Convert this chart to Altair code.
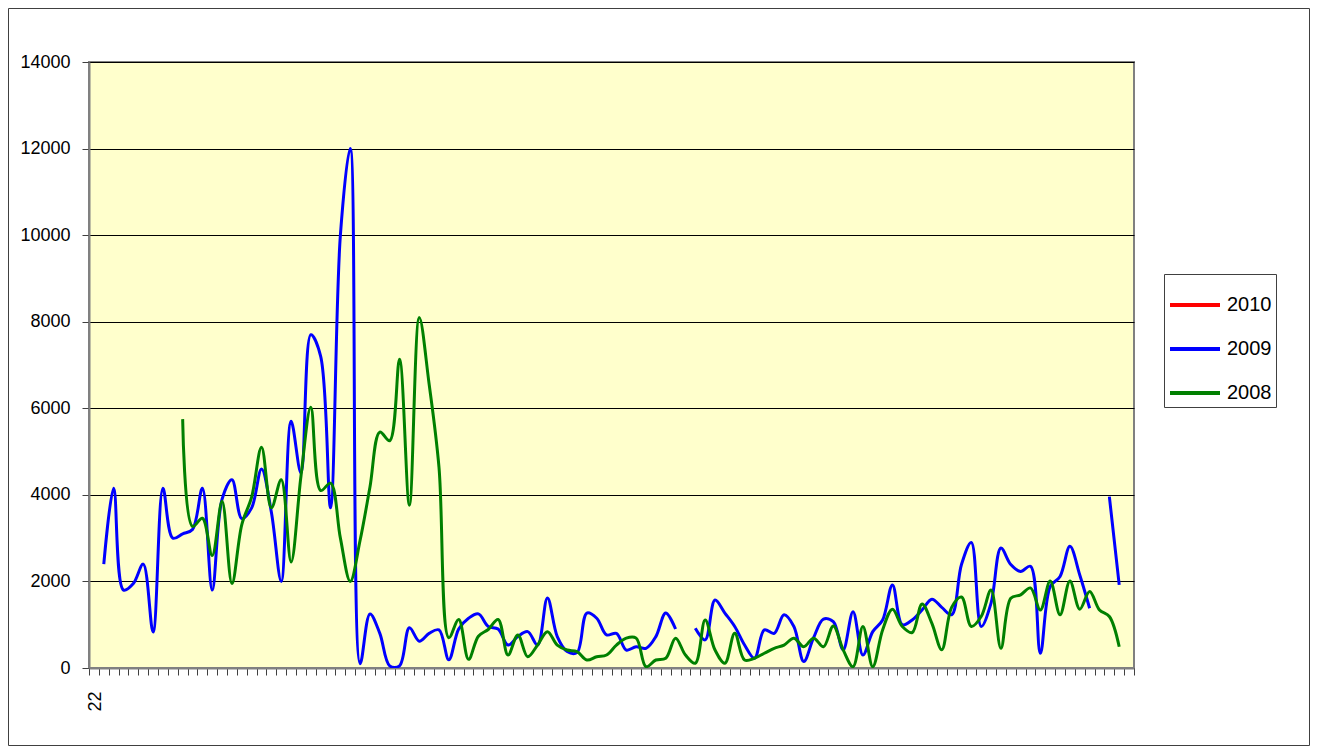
import altair as alt
import pandas as pd

# ---------------- data ----------------
categories = list(range(106))
first_label = "22"
series_names = ["2010", "2009", "2008"]
series_colors = ["#FF0000", "#0000FF", "#008000"]

values_2009 = [
    None, 2400, 4150, 1800, 1950, 2400, 830, 4150, 3000, 3100,
    3200, 4150, 1800, 3900, 4350, 3450, 3700, 4600, 3600, 2000,
    5700, 4500, 7700, 7200, 3700, 10000, 12000, 100, 1250, 800,
    50, 50, 930, 620, 800, 880, 190, 900, 1150, 1250,
    960, 900, 530, 725, 840, 530, 1620, 725, 380, 355,
    1270, 1150, 765, 800, 415, 490, 455, 725, 1270, 900,
    None, 920, 650, 1570, 1270, 960, 530, 225, 880, 800,
    1230, 960, 150, 700, 1130, 1070, 420, 1300, 300, 840,
    1110, 1920, 1000, 1110, 1340, 1590, 1400, 1230, 2390, 2900,
    960, 1500, 2770, 2390, 2230, 2350, 340, 1880, 2115, 2810,
    2150, 1380, None, 3960, 1920, None,
]

values_2008 = [
    None, None, None, None, None, None, None, None, None, 5750,
    3270, 3460, 2600, 3850, 1950, 3315, 3950, 5100, 3700, 4350,
    2450, 4430, 6025, 4100, 4270, 3000, 2000, 2950, 4180, 5450,
    5250, 7130, 3760, 8100, 6560, 4640, 700, 1120, 200, 735,
    890, 1120, 300, 765, 260, 530, 840, 530, 415, 380,
    185, 260, 300, 530, 690, 690, 30, 185, 225, 690,
    300, 110, 1110, 415, 110, 800, 185, 225, 340, 455,
    530, 690, 490, 690, 490, 970, 420, 30, 960, 30,
    880, 1360, 960, 820, 1480, 1030, 420, 1400, 1640, 960,
    1190, 1800, 455, 1610, 1690, 1850, 1340, 2010, 1230, 2010,
    1360, 1770, 1340, 1190, 490, None,
]

y_ticks = [0, 2000, 4000, 6000, 8000, 10000, 12000, 14000]

rows = []
for name, vals in (("2009", values_2009), ("2008", values_2008)):
    for i, v in zip(categories, vals):
        rows.append({"i": i, "v": v, "series": name})
df = pd.DataFrame(rows)

n_cat = len(categories)
tick_positions = [k - 0.5 for k in range(n_cat + 1)]

FONT = "Liberation Sans"
W, H = 1045, 606

lines = alt.Chart(df).mark_line(
    strokeWidth=3,
    interpolate="catmull-rom",
    clip=True,
    invalid="break-paths-show-domains",
).encode(
    x=alt.X(
        "i:Q",
        scale=alt.Scale(domain=[-0.5, n_cat - 0.5], nice=False, zero=False),
        axis=alt.Axis(
            values=tick_positions,
            labelExpr=f"datum.value == -0.5 ? '{first_label}' : ''",
            labelAngle=-90,
            labelAlign="right",
            labelBaseline="middle",
            labelOffset=6.5,
            labelPadding=16,
            labelOverlap=False,
            labelFlush=False,
            labelFontSize=18,
            labelFont=FONT,
            labelColor="#000000",
            tickSize=7,
            tickColor="#404040",
            domainColor="#808080",
            domainWidth=2,
            grid=False,
            title=None,
        ),
    ),
    y=alt.Y(
        "v:Q",
        scale=alt.Scale(domain=[0, 14000], nice=False),
        axis=alt.Axis(
            values=y_ticks,
            format="d",
            labelFontSize=18,
            labelFont=FONT,
            labelColor="#000000",
            labelPadding=12,
            tickSize=7,
            tickColor="#404040",
            domainColor="#808080",
            domainWidth=2,
            grid=True,
            gridColor="#000000",
            gridWidth=1,
            title=None,
        ),
    ),
    color=alt.Color(
        "series:N",
        scale=alt.Scale(domain=series_names, range=series_colors),
        legend=alt.Legend(
            title=None,
            orient="none",
            legendX=1075,
            legendY=212,
            direction="vertical",
            symbolType="stroke",
            symbolSize=2500,
            symbolStrokeWidth=4,
            labelFontSize=20,
            labelFont=FONT,
            labelColor="#000000",
            labelOffset=5,
            rowPadding=7,
            padding=4,
            strokeColor="#404040",
            fillColor="#FFFFFF",
        ),
    ),
    detail="series:N",
)

frame = alt.Chart(pd.DataFrame({"f": [0]})).mark_rect(
    fillOpacity=0, stroke="#404040", strokeWidth=1
).encode(
    x=alt.value(-80.5),
    x2=alt.value(W + 175.5),
    y=alt.value(-53.5),
    y2=alt.value(H + 77.5),
)

chart = alt.layer(lines, frame).properties(
    width=W,
    height=H,
    padding={"left": 81, "top": 54, "right": 176, "bottom": 78},
    autosize=alt.AutoSizeParams(type="none"),
    background="#FFFFFF",
).configure_view(
    fill="#FFFFCC",
    stroke="#808080",
    strokeWidth=2,
)

chart.save("out.html", embed_options={"renderer": "svg", "actions": False})
